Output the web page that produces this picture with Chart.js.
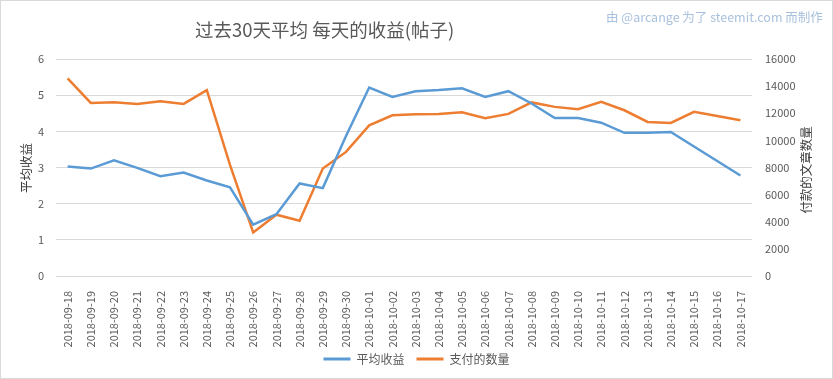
<!DOCTYPE html>
<html>
<head>
<meta charset="utf-8">
<script src="https://cdn.jsdelivr.net/npm/chart.js@4/dist/chart.umd.min.js"></script>
<style>
  html, body { margin: 0; padding: 0; background: #fff; }
  #wrap { position: relative; width: 833px; height: 379px; overflow: hidden; background: #fff; }
  #frame { position: absolute; left: 0; top: 0; width: 833px; height: 379px; box-sizing: border-box; border: 1px solid #d9d9d9; pointer-events: none; }
  .txt { position: absolute; font-family: "Noto Sans CJK SC", "Noto Sans", sans-serif; white-space: nowrap; }
  #title { left: 195px; top: 16px; font-size: 18.5px; color: #595959; line-height: 26px; }
  #credit { left: 606px; top: 8px; font-size: 12.5px; color: #a9c1dc; line-height: 18px; }
  .ytitle { font-size: 12.5px; color: #404040; line-height: 16px; transform: translate(-50%, -50%) rotate(-90deg); }
</style>
</head>
<body>
<div id="wrap">
  <canvas id="c" width="833" height="379"></canvas>
  <div id="title" class="txt">过去30天平均 每天的收益(帖子)</div>
  <div id="credit" class="txt">由 @arcange 为了 steemit.com 而制作</div>
  <div id="ytl" class="txt ytitle" style="left:26px; top:168px;">平均收益</div>
  <div id="ytr" class="txt ytitle" style="left:806px; top:170px;">付款的文章数量</div>
  <div id="frame"></div>
</div>
<script>
const dates = ["2018-09-18","2018-09-19","2018-09-20","2018-09-21","2018-09-22","2018-09-23","2018-09-24","2018-09-25","2018-09-26","2018-09-27","2018-09-28","2018-09-29","2018-09-30","2018-10-01","2018-10-02","2018-10-03","2018-10-04","2018-10-05","2018-10-06","2018-10-07","2018-10-08","2018-10-09","2018-10-10","2018-10-11","2018-10-12","2018-10-13","2018-10-14","2018-10-15","2018-10-16","2018-10-17"];
const avgEarnings = [3.03,2.97,3.20,2.99,2.76,2.86,2.64,2.45,1.42,1.71,2.56,2.43,3.87,5.21,4.95,5.11,5.14,5.19,4.95,5.11,4.77,4.37,4.37,4.24,3.96,3.96,3.98,3.58,3.18,2.78];
const paidCount = [14570,12760,12815,12690,12890,12690,13700,8200,3210,4520,4070,7920,9150,11110,11850,11925,11950,12075,11630,11950,12800,12470,12300,12840,12220,11360,11290,12100,11800,11480];
const seriesNames = ["平均收益", "支付的数量"];
const leftTicks = { min: 0, max: 6, step: 1 };
const rightTicks = { min: 0, max: 16000, step: 2000 };

const FONT = "'Noto Sans CJK SC', 'Noto Sans', sans-serif";
const GREY = "#595959";

new Chart(document.getElementById("c"), {
  type: "line",
  data: {
    labels: dates,
    datasets: [
      { label: seriesNames[0], data: avgEarnings, yAxisID: "y", borderColor: "#5b9bd5", backgroundColor: "#5b9bd5", borderWidth: 2.5, pointRadius: 0, tension: 0 },
      { label: seriesNames[1], data: paidCount, yAxisID: "y1", borderColor: "#ed7d31", backgroundColor: "#ed7d31", borderWidth: 2.5, pointRadius: 0, tension: 0 }
    ]
  },
  options: {
    responsive: false,
    animation: false,
    layout: { padding: { top: 59, left: 0, right: 0, bottom: 4 } },
    plugins: {
      title: { display: false },
      tooltip: { enabled: false },
      legend: {
        position: "bottom",
        labels: {
          boxWidth: 27, boxHeight: 3, padding: 12,
          color: GREY, font: { family: FONT, size: 12 },
          generateLabels: (chart) => Chart.defaults.plugins.legend.labels.generateLabels(chart).map(l => Object.assign(l, { lineWidth: 0 }))
        }
      }
    },
    scales: {
      x: {
        offset: true,
        grid: { display: false, offset: true },
        border: { display: false },
        ticks: { minRotation: 90, maxRotation: 90, autoSkip: false, padding: 7, color: GREY, font: { family: FONT, size: 11 } },
        afterFit: (s) => { s.height = 65; s._computeLabelArea = () => undefined; }
      },
      y: {
        position: "left",
        min: leftTicks.min, max: leftTicks.max,
        ticks: { stepSize: leftTicks.step, padding: 12, color: GREY, font: { family: FONT, size: 11 } },
        grid: { color: "#d9d9d9", lineWidth: 1, drawTicks: false },
        border: { display: false },
        afterFit: (s) => { s.width = 56; }
      },
      y1: {
        position: "right",
        min: rightTicks.min, max: rightTicks.max,
        ticks: { stepSize: rightTicks.step, padding: 13, color: GREY, font: { family: FONT, size: 11 }, callback: (v) => String(v) },
        grid: { display: false, drawTicks: false },
        border: { display: false },
        afterFit: (s) => { s.width = 81; }
      }
    }
  }
});
</script>
</body>
</html>
